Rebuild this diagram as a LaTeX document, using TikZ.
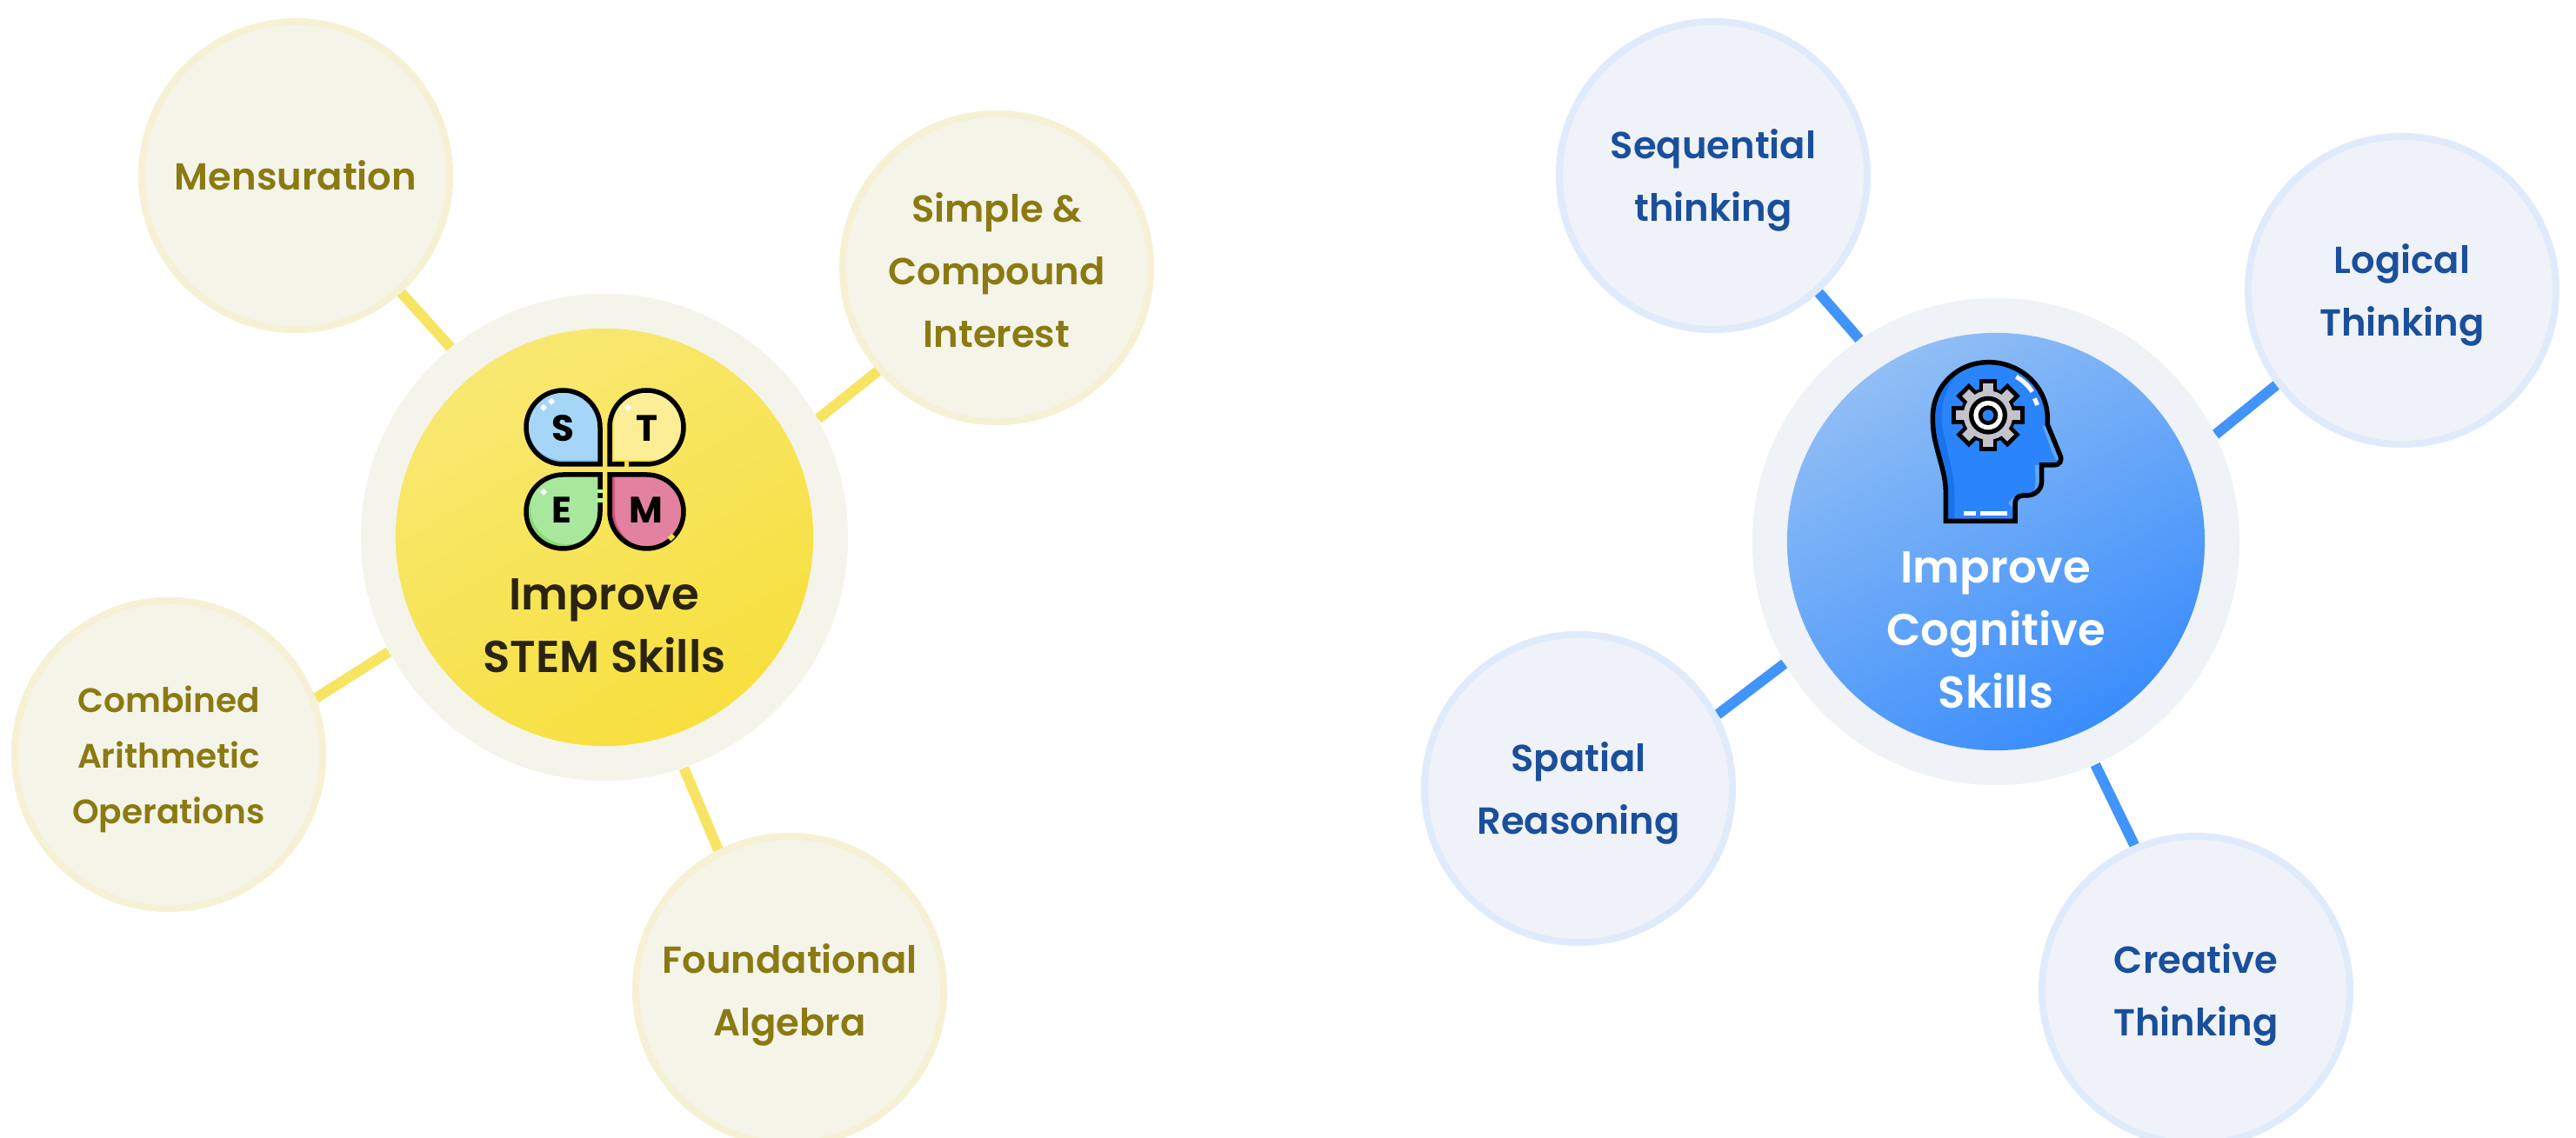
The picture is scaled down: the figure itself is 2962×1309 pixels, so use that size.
\documentclass[tikz,border=0pt]{standalone}
\usepackage{fontspec}
\setmainfont{Poppins}[BoldFont={Poppins SemiBold}]
\newfontfamily\iconfont{Poppins Bold}
\usetikzlibrary{backgrounds}

\definecolor{stemline}{HTML}{F7E463}
\definecolor{stemring}{HTML}{F4F4EB}
\definecolor{stemfill}{HTML}{F4F4E9}
\definecolor{stemedge}{HTML}{F6F1D4}
\definecolor{stemtext}{HTML}{8B7A12}
\definecolor{stemlight}{HTML}{F8E871}
\definecolor{stemdeep}{HTML}{F7E03E}
\definecolor{stemdark}{HTML}{2A2410}
\definecolor{cogline}{HTML}{4194FA}
\definecolor{cogring}{HTML}{EFF2F7}
\definecolor{cogfill}{HTML}{EFF2F8}
\definecolor{cogedge}{HTML}{DFEBFB}
\definecolor{cogtext}{HTML}{1A4F9C}
\definecolor{coglight}{HTML}{90BEF5}
\definecolor{cogdeep}{HTML}{3A8DFC}
\definecolor{headblue}{HTML}{2A84FB}
\definecolor{headdark}{HTML}{1B72EE}
\definecolor{headlight}{HTML}{62A4F6}
\definecolor{geargrey}{HTML}{C4C3CB}

\begin{document}
\begin{tikzpicture}[x=0.01cm, y=0.01cm,
	stemtopic/.style = {draw=stemedge, fill=stemfill, circle, inner sep=0pt, line width=0.08cm, minimum size=3.54cm, align=center, text=stemtext, font=\fontsize{12.3}{20.5}\selectfont\bfseries},
	cogtopic/.style = {draw=cogedge, fill=cogfill, circle, inner sep=0pt, line width=0.08cm, minimum size=3.54cm, align=center, text=cogtext, font=\fontsize{12.3}{20.5}\selectfont\bfseries},
	ring/.style = {circle, minimum size=5.6cm},
	disc/.style = {circle, minimum size=4.8cm},
	title/.style = {align=center, font=\fontsize{14.6}{20.5}\selectfont\bfseries},
	stemlink/.style = {draw=stemline, line width=0.12cm},
	coglink/.style = {draw=cogline, line width=0.12cm},
	iconline/.style = {draw=black, line width=0.055cm},
	letter/.style = {font=\fontsize{12}{12}\selectfont\iconfont}]

	\path[use as bounding box, clip] (0,0) rectangle (2962,1309);

	% left side
	\node[ring, fill=stemring] (stemouter) at (695,691) {};
	\node[disc, top color=stemlight, bottom color=stemdeep, shading angle=30] (stemdisc) at (695,691) {};
	\node[stemtopic] (mens) at (340,1107) {Mensuration};
	\node[stemtopic, text height=52.2pt] (interest) at (1146,1001) {Simple \&\\Compound\\Interest};
	\node[stemtopic, text height=48.2pt, font=\fontsize{11.1}{18.2}\selectfont\bfseries] (arith) at (194,441) {Combined\\Arithmetic\\Operations};
	\node[stemtopic, text height=33pt] (algebra) at (908,170) {Foundational\\Algebra};
	\node[title, text=stemdark] (stemtitle) at (695,589) {Improve\\STEM Skills};

	% right side
	\node[ring, fill=cogring] (cogouter) at (2295,686) {};
	\node[disc, top color=coglight, bottom color=cogdeep, shading angle=30] (cogdisc) at (2295,686) {};
	\node[cogtopic, text height=33pt] (seq) at (1970,1107) {Sequential\\thinking};
	\node[cogtopic, text height=33pt] (logic) at (2762,975) {Logical\\Thinking};
	\node[cogtopic, text height=33pt] (spatial) at (1815,402) {Spatial\\Reasoning};
	\node[cogtopic, text height=33pt] (creative) at (2525,170) {Creative\\Thinking};
	\node[title, text=white] (cogtitle) at (2295,584) {Improve\\Cognitive\\Skills};

	\begin{scope}[on background layer]
		\draw[stemlink] (mens.-48) -- (stemouter.129);
		\draw[stemlink] (interest.221) -- (stemouter.29);
		\draw[stemlink] (arith.21) -- (stemouter.208);
		\draw[stemlink] (algebra.117) -- (stemouter.-71.5);
		\draw[coglink] (seq.-48) -- (cogouter.124);
		\draw[coglink] (logic.217) -- (cogouter.26);
		\draw[coglink] (spatial.28) -- (cogouter.210);
		\draw[coglink] (creative.113) -- (cogouter.-66);
	\end{scope}

	% stem petals
	\def\petalpath{(0,0) -- (-42.5,0) arc (270:0:42.5) -- cycle}
	\foreach \px/\py/\rot/\sx/\sy/\light/\dark in {
		690/775/0/0/5/A5D6F8/7FC1F3,
		701/775/-90/5/5/FBEE96/F6DF3C,
		690/763/90/5/5/A8E89C/85DB74,
		701/763/180/6/0/E282A0/CC5476} {
		\definecolor{petallight}{HTML}{\light}
		\definecolor{petaldark}{HTML}{\dark}
		\begin{scope}
			\clip[shift={(\px,\py)}, rotate=\rot] \petalpath;
			\fill[petaldark] (\px-100,\py-100) rectangle (\px+100,\py+100);
			\fill[petallight, shift={(\px+\sx,\py+\sy)}, rotate=\rot] \petalpath;
			\ifnum\sx=5 \fill[petallight, shift={(\px+\sx+40,\py+\sy)}, rotate=\rot] \petalpath; \fi
		\end{scope}
		\draw[iconline, shift={(\px,\py)}, rotate=\rot] \petalpath;
	}
	\draw[stemdeep, line width=0.07cm] (718,775) -- (723,775);
	\draw[green!60!yellow!45!white, line width=0.07cm] (690,746) -- (690,742);
	\draw[green!60!yellow!45!white, line width=0.07cm] (690,736) -- (690,731);
	\draw[stemdeep, line width=0.07cm] (770,693) -- (774,689);
	\foreach \hx/\hy in {625/840, 634/847, 722/840, 625/743}
		\fill[white] (\hx-4,\hy) -- (\hx,\hy+4) -- (\hx+4,\hy) -- (\hx,\hy-4) -- cycle;
	\node[letter] (letterS) at (647,816) {S};
	\node[letter] (letterT) at (744,816) {T};
	\node[letter] (letterE) at (646,722) {E};
	\node[letter] (letterM) at (743,722) {M};

	% head
	\begin{scope}[shift={(2160,919)}, xscale=1/3, yscale=-1/3]
		\def\headpath{(232,628) -- (232,530) .. controls (232,480) and (218,440) .. (205,390) .. controls (193,345) and (187,320) .. (187,270) .. controls (187,165) and (270,80) .. (380,80) .. controls (490,80) and (583,165) .. (583,275) -- (583,295) -- (626,400) .. controls (635,420) and (625,435) .. (605,435) -- (563,435) -- (563,490) .. controls (563,520) and (540,540) .. (510,540) -- (498,540) .. controls (482,540) and (471,552) .. (471,568) -- (471,628) -- cycle}
		\fill[headblue] \headpath;
		\fill[headdark] (232,628) -- (232,530) .. controls (232,480) and (218,440) .. (205,390) .. controls (193,345) and (187,320) .. (187,270) .. controls (187,190) and (225,130) .. (290,100) .. controls (240,150) and (215,210) .. (218,280) .. controls (222,350) and (262,450) .. (262,530) -- (262,628) -- cycle;
		\fill[headlight] (565,300) -- (606,408) .. controls (610,420) and (620,420) .. (622,415) -- (583,300) -- cycle;
		\fill[headlight] (540,435) -- (563,435) -- (563,490) .. controls (563,510) and (555,525) .. (535,530) .. controls (545,510) and (540,470) .. (540,435) -- cycle;
		\fill[headlight] (448,568) .. controls (452,555) and (465,545) .. (480,543) -- (471,568) -- (471,590) -- cycle;
		\fill[black] (378,263) circle (95);
		\foreach \ang in {0,45,...,315}
			\fill[black, shift={(378,263)}, rotate=\ang] (-31,0) rectangle (31,125);
		\fill[geargrey] (378,263) circle (85);
		\foreach \ang in {0,45,...,315}
			\fill[geargrey, shift={(378,263)}, rotate=\ang] (-17,0) rectangle (17,110);
		\fill[black] (378,263) circle (66);
		\fill[white] (378,263) circle (50);
		\fill[black] (378,263) circle (34);
		\fill[headblue] (378,263) circle (19);
		\draw[white, line width=0.05cm] (475,130) .. controls (500,145) and (518,162) .. (530,182);
		\draw[white, line width=0.05cm] (538,205) -- (548,228);
		\draw[white, line width=0.05cm] (295,603) -- (335,603);
		\draw[white, line width=0.05cm] (352,603) -- (443,603);
		\draw[iconline] \headpath;
	\end{scope}
\end{tikzpicture}
\end{document}
